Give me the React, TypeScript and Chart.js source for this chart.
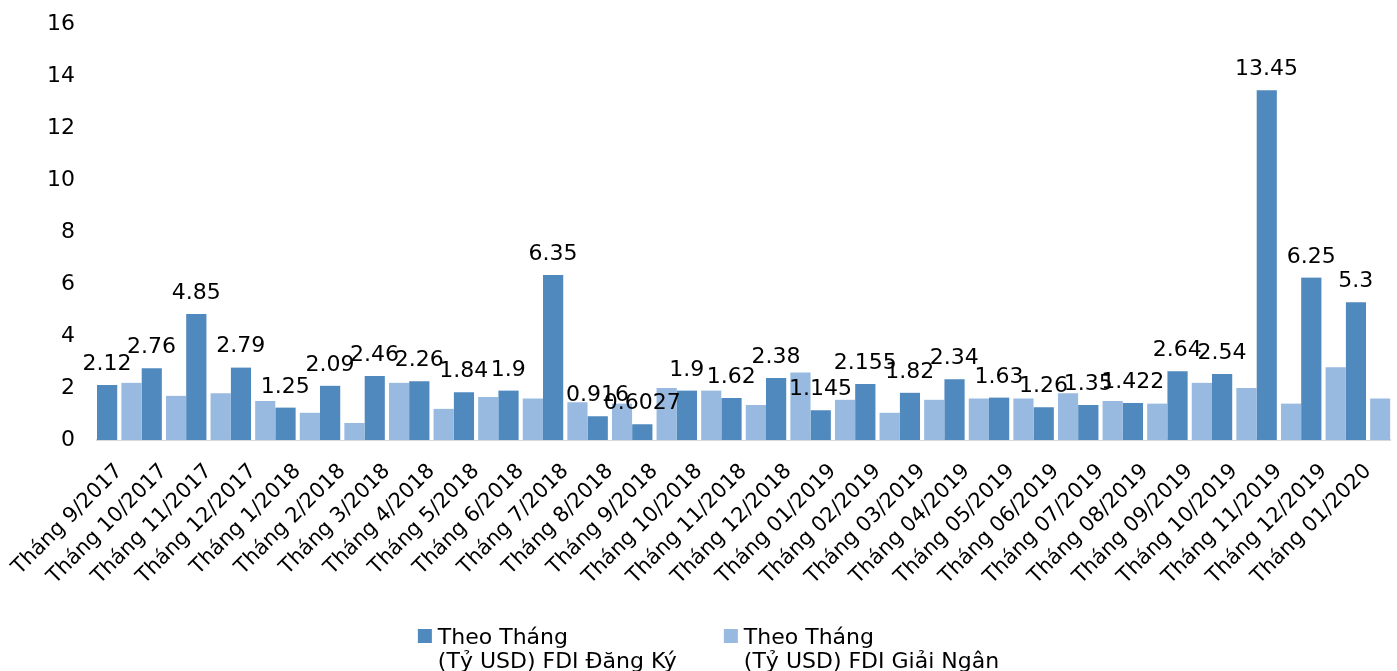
import React, { useEffect, useRef } from "react";
import { Chart, registerables } from "chart.js";
import type { Plugin } from "chart.js";

Chart.register(...registerables);

// Monthly categories
const months = [
  "Tháng 9/2017", "Tháng 10/2017", "Tháng 11/2017", "Tháng 12/2017",
  "Tháng 1/2018", "Tháng 2/2018", "Tháng 3/2018", "Tháng 4/2018",
  "Tháng 5/2018", "Tháng 6/2018", "Tháng 7/2018", "Tháng 8/2018",
  "Tháng 9/2018", "Tháng 10/2018", "Tháng 11/2018", "Tháng 12/2018",
  "Tháng 01/2019", "Tháng 02/2019", "Tháng 03/2019", "Tháng 04/2019",
  "Tháng 05/2019", "Tháng 06/2019", "Tháng 07/2019", "Tháng 08/2019",
  "Tháng 09/2019", "Tháng 10/2019", "Tháng 11/2019", "Tháng 12/2019",
  "Tháng 01/2020",
];

// Registered FDI per month (billion USD)
const registered = [
  2.12, 2.76, 4.85, 2.79, 1.25, 2.09, 2.46, 2.26, 1.84, 1.9,
  6.35, 0.916, 0.6027, 1.9, 1.62, 2.38, 1.145, 2.155, 1.82, 2.34,
  1.63, 1.26, 1.35, 1.422, 2.64, 2.54, 13.45, 6.25, 5.3,
];

// Disbursed FDI per month (billion USD)
const disbursed = [
  2.2, 1.7, 1.8, 1.5, 1.05, 0.65, 2.2, 1.2, 1.65, 1.6,
  1.45, 1.4, 2.0, 1.9, 1.35, 2.6, 1.55, 1.05, 1.55, 1.6,
  1.6, 1.8, 1.5, 1.4, 2.2, 2.0, 1.4, 2.8, 1.6,
];

const registeredLegend = ["Theo Tháng", "(Tỷ USD) FDI Đăng Ký"];
const disbursedLegend = ["Theo Tháng", "(Tỷ USD) FDI Giải Ngân"];

const yMin = 0;
const yMax = 16;
const yStep = 2;

const FONT = '"DejaVu Sans", Verdana, sans-serif';
const DARK = "#4F89BD";
const LIGHT = "#98BAE0";
const INNER_GAP = 2.4; // white strip on the inner side of each bar of a pair

// Value labels above the registered-FDI bars
const valueLabels: Plugin<"bar"> = {
  id: "valueLabels",
  afterDatasetsDraw(chart) {
    const meta = chart.getDatasetMeta(0);
    const ctx = chart.ctx;
    ctx.save();
    ctx.font = `22px ${FONT}`;
    ctx.fillStyle = "#000";
    ctx.textAlign = "center";
    ctx.textBaseline = "alphabetic";
    meta.data.forEach((el: any, i: number) => {
      const { x, y, width } = el.getProps(["x", "y", "width"], true);
      const left = x - width / 2;
      const right = x + width / 2 - INNER_GAP;
      ctx.fillText(String(registered[i]), (left + right) / 2, y - 15);
    });
    ctx.restore();
  },
};

// Two-line legend centred under the axis labels
const twoLineLegend: Plugin<"bar"> = {
  id: "twoLineLegend",
  afterDraw(chart) {
    const ctx = chart.ctx;
    const items = [
      { color: DARK, lines: registeredLegend },
      { color: LIGHT, lines: disbursedLegend },
    ];
    ctx.save();
    ctx.font = `22px ${FONT}`;
    ctx.fillStyle = "#000";
    ctx.textAlign = "left";
    ctx.textBaseline = "alphabetic";
    const box = 14;
    const boxGap = 6;
    const itemGap = 47;
    const widths = items.map((it) =>
      Math.max(...it.lines.map((l) => ctx.measureText(l).width))
    );
    const total =
      widths.reduce((a, w) => a + box + boxGap + w, 0) +
      itemGap * (items.length - 1);
    let x = chart.width / 2 - total / 2 + 10;
    const base1 = chart.height - 27;
    const lineH = 24;
    items.forEach((it, i) => {
      ctx.fillStyle = it.color;
      ctx.fillRect(x, base1 - 15, box, box);
      ctx.fillStyle = "#000";
      it.lines.forEach((line, j) => {
        ctx.fillText(line, x + box + boxGap, base1 + j * lineH);
      });
      x += box + boxGap + widths[i] + itemGap;
    });
    ctx.restore();
  },
};

export default function App() {
  const canvasRef = useRef<HTMLCanvasElement | null>(null);

  useEffect(() => {
    const canvas = canvasRef.current;
    if (!canvas) return;
    const chart = new Chart(canvas, {
      type: "bar",
      data: {
        labels: months,
        datasets: [
          {
            label: registeredLegend.join(" "),
            data: registered,
            backgroundColor: DARK,
            borderColor: "#FFFFFF",
            borderWidth: { top: 0, left: 0, bottom: 0, right: INNER_GAP },
            borderSkipped: "start",
            barPercentage: 1,
            categoryPercentage: 1,
          },
          {
            label: disbursedLegend.join(" "),
            data: disbursed,
            backgroundColor: LIGHT,
            borderColor: "#FFFFFF",
            borderWidth: { top: 0, left: INNER_GAP, bottom: 0, right: 0 },
            borderSkipped: "start",
            barPercentage: 1,
            categoryPercentage: 1,
          },
        ],
      },
      options: {
        responsive: false,
        animation: false,
        events: [],
        layout: { padding: { top: 24, right: 5, bottom: 0, left: 0 } },
        plugins: {
          legend: { display: false },
          tooltip: { enabled: false },
          title: { display: false },
        },
        scales: {
          x: {
            grid: { display: false },
            border: { display: true, color: "#D9D9D9", width: 2 },
            ticks: {
              autoSkip: false,
              minRotation: 45,
              maxRotation: 45,
              padding: 11,
              color: "#000",
              font: { family: FONT, size: 21 },
            },
            afterFit: (scale: any) => {
              scale.height = 231;
            },
          },
          y: {
            min: yMin,
            max: yMax,
            grid: { display: false },
            border: { display: false },
            ticks: {
              stepSize: yStep,
              padding: 14,
              color: "#000",
              font: { family: FONT, size: 22 },
            },
            afterFit: (scale: any) => {
              scale.width = 97;
              scale.paddingTop = 0;
              scale.paddingBottom = 0;
            },
          },
        },
      },
      plugins: [valueLabels, twoLineLegend],
    });
    return () => chart.destroy();
  }, []);

  return (
    <div
      style={{
        position: "fixed",
        left: 0,
        top: 0,
        width: 1397,
        height: 671,
        background: "#fff",
      }}
    >
      <canvas
        ref={canvasRef}
        width={1397}
        height={671}
        style={{ display: "block", width: 1397, height: 671 }}
      />
    </div>
  );
}
